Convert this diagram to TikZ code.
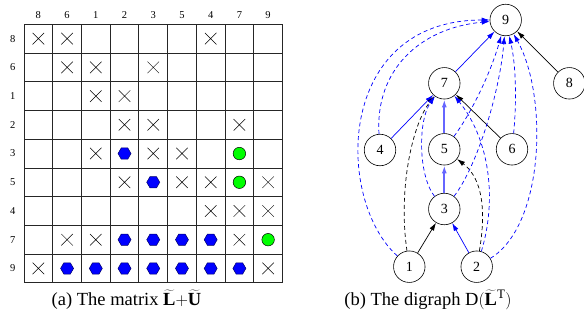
\documentclass[tikz,border=0pt]{standalone}
\usepackage{fontspec}
\setmainfont{Liberation Serif}
\usetikzlibrary{arrows.meta,shapes.geometric,shapes.misc}
\begin{document}
\begin{tikzpicture}[x=1pt,y=-1pt,
  lab/.style={font=\fontsize{10.5}{10.5}\selectfont, inner sep=0pt},
  xmark/.style={cross out, draw=black, line width=0.5pt, minimum size=11pt, inner sep=0pt},
  hexmark/.style={regular polygon, regular polygon sides=6, fill=blue, draw=blue!40!black, line width=0.5pt, minimum size=13pt, inner sep=0pt},
  gmark/.style={circle, fill=green, draw=black, line width=0.5pt, minimum size=12.5pt, inner sep=0pt},
  gridline/.style={black!85, line width=0.8pt},
  vnode/.style={circle, draw=black, line width=0.6pt, minimum size=31.5pt, inner sep=0pt, font=\fontsize{14}{14}\selectfont},
  arrtip/.style={-{Latex[length=8pt,width=5pt]}},
  sblack/.style={arrtip, black, line width=0.7pt},
  sblue/.style={arrtip, blue, line width=0.7pt},
  lblue/.style={arrtip, blue!60, line width=1.8pt},
  dblack/.style={arrtip, black, line width=0.7pt, dash pattern=on 4pt off 3pt},
  dblue/.style={arrtip, blue, line width=0.7pt, dash pattern=on 4pt off 3pt},
  captext/.style={font=\fontsize{18.5}{18.5}\selectfont, inner sep=0pt, anchor=base}
]
\useasboundingbox (0,0) rectangle (584,324);
\def\cw{28.72}
% labels
\foreach \l [count=\i from 0] in {8,6,1,2,3,5,4,7,9} {
  \node[lab] (cl\i) at ({24+\cw*(\i+0.5)},15) {\l};
  \node[lab] (rl\i) at (12.7,{24.3+\cw*(\i+0.5)}) {\l};
}
% grid
\foreach \i in {0,...,9} {
  \draw[gridline] ({24+\cw*\i},24.3) -- ({24+\cw*\i},{24.3+9*\cw});
  \draw[gridline] (24,{24.3+\cw*\i}) -- ({24+9*\cw},{24.3+\cw*\i});
}
% crosses
\foreach \c/\r in {0/0,1/0,6/0, 1/1,2/1,4/1, 2/2,3/2, 3/3,4/3,7/3,
  2/4,4/4,5/4, 3/5,5/5,6/5,8/5, 6/6,7/6,8/6, 1/7,2/7,7/7, 0/8,8/8}
  \node[xmark] (x-\r-\c) at ({24+\cw*(\c+0.5)},{24.3+\cw*(\r+0.5)}) {};
% fill hexagons
\foreach \c/\r in {3/4, 4/5, 3/7,4/7,5/7,6/7, 1/8,2/8,3/8,4/8,5/8,6/8,7/8}
  \node[hexmark] (h-\r-\c) at ({24+\cw*(\c+0.5)},{24.3+\cw*(\r+0.5)}) {};
% green circles
\foreach \c/\r in {7/4, 7/5, 8/7}
  \node[gmark] (g-\r-\c) at ({24+\cw*(\c+0.5)},{24.3+\cw*(\r+0.5)}) {};

% graph nodes
\node[vnode] (n9) at (505.7,20) {9};
\node[vnode] (n7) at (444.3,83.3) {7};
\node[vnode] (n8) at (569.3,83.3) {8};
\node[vnode] (n4) at (380,150) {4};
\node[vnode] (n5) at (444.3,149.3) {5};
\node[vnode] (n6) at (512,149.3) {6};
\node[vnode] (n3) at (444.3,209) {3};
\node[vnode] (n1) at (409.3,266.7) {1};
\node[vnode] (n2) at (476.7,266.7) {2};

% tree edges
\draw[sblack] (n8) -- (n9);
\draw[sblue] (n7) -- (n9);
\draw[sblue] (n4) -- (n7);
\draw[sblack] (n6) -- (n7);
\draw[lblue] (n5) -- (n7);
\draw[lblue] (n3) -- (n5);
\draw[sblack] (n1) -- (n3);
\draw[sblue] (n2) -- (n3);

% dashed edges
\draw[dblue] (n1) .. controls (335,200) and (335,20) .. (n9);
\draw[dblue] (n4) .. controls (375,70) and (420,28) .. (n9);
\draw[dblack] (n1) .. controls (398,190) and (412,125) .. (n7);
\draw[dblue] (n3) .. controls (418,175) and (418,120) .. (n7);
\draw[dblue] (n2) .. controls (497,200) and (490,140) .. (n7);
\draw[dblack] (n2) .. controls (488,200) and (478,175) .. (n5);
\draw[dblue] (n2) .. controls (545,225) and (548,95) .. (n9);
\draw[dblue] (n6) .. controls (516,110) and (517,70) .. (n9);
\draw[dblue] (n5) .. controls (470,115) and (490,75) .. (n9);
\draw[dblue] (n3) .. controls (478,165) and (500,90) .. (n9);

% captions
\node[captext] (capa) at (126.5,305) {(a) The matrix $\widetilde{\mathbf{L}}{+}\widetilde{\mathbf{U}}$};
\node[captext] (capb) at (428,305) {(b) The digraph $\mathrm{D}(\widetilde{\mathbf{L}}^{\mathrm{T}})$};
\end{tikzpicture}
\end{document}
